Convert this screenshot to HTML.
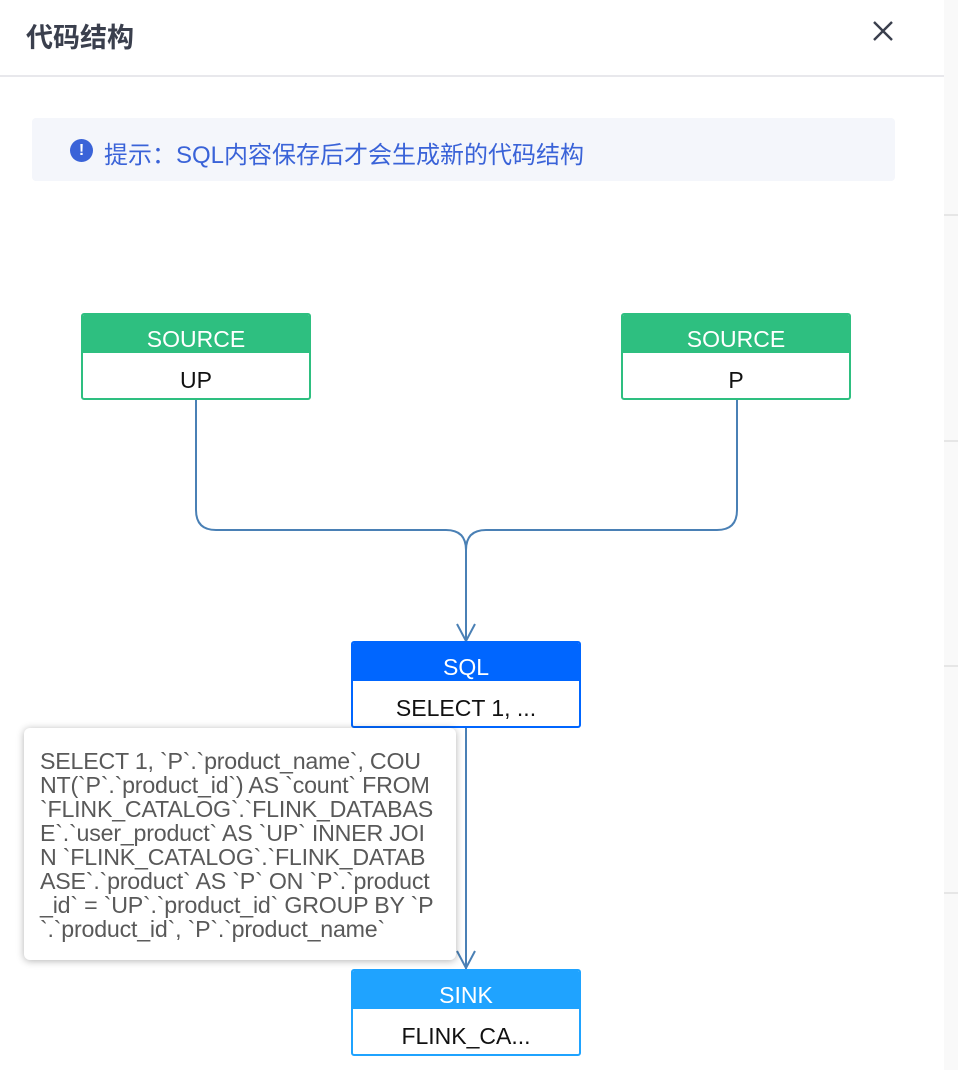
<!DOCTYPE html>
<html><head><meta charset="utf-8">
<style>
body{margin:0;width:958px;height:1070px;position:relative;background:#fff;overflow:hidden;font-family:"Liberation Sans","Noto Sans CJK SC",sans-serif;}
.strip{position:absolute;left:944px;top:0;width:14px;height:1070px;background:#f9f9f9;}
.sl{position:absolute;left:944px;width:14px;height:2px;background:#e6e6e6;}
.hline{position:absolute;left:0;top:75px;width:944px;height:2px;background:#e8e8ec;}
.title{position:absolute;left:26px;top:16px;font-size:27px;font-weight:bold;color:#3a3f4d;}
.close{position:absolute;left:870px;top:18px;}
.hint{position:absolute;left:32px;top:118px;width:863px;height:63px;background:#f4f6fb;border-radius:4px;}
.hint .ic{position:absolute;left:38px;top:21px;width:23px;height:23px;border-radius:50%;background:#3a63d8;color:#fff;font-size:16px;font-weight:bold;text-align:center;line-height:23px;}
.hint .t{position:absolute;left:72px;top:17px;font-size:24px;color:#3a63d8;}
.node{position:absolute;width:230px;height:87px;border:2px solid;border-radius:3px;box-sizing:border-box;background:#fff;overflow:hidden;}
.node .h{height:38px;color:#fff;font-size:23px;text-align:center;line-height:48px;}
.node .b{height:46px;font-size:23px;text-align:center;line-height:54px;color:#111;}
.tip{position:absolute;left:24px;top:728px;width:432px;height:232px;background:#fff;border-radius:6px;box-shadow:0 1px 8px rgba(0,0,0,0.3);}
.tip .t{position:absolute;left:16px;top:21px;font-size:23.2px;line-height:24px;color:#595959;white-space:nowrap;letter-spacing:-0.2px;}
</style></head><body>
<div class="strip"></div>
<div class="sl" style="top:214px"></div><div class="sl" style="top:440px"></div><div class="sl" style="top:665px"></div><div class="sl" style="top:892px"></div>
<div class="title">代码结构</div>
<svg class="close" width="26" height="26" viewBox="0 0 26 26"><path d="M4 4L22 22M22 4L4 22" stroke="#3a3f4d" stroke-width="2.4"/></svg>
<div class="hline"></div>
<div class="hint"><div class="ic">!</div><div class="t">提示：SQL内容保存后才会生成新的代码结构</div></div>
<svg style="position:absolute;left:0;top:0" width="958" height="1070">
<g fill="none" stroke="#4a80b5" stroke-width="2">
<path d="M196 400V510Q196 530 216 530H446Q466 530 466 550V642"/>
<path d="M737 400V510Q737 530 717 530H486Q466 530 466 550"/>
<path d="M457 624L466 641L475 624"/>
<path d="M466 727V969"/>
<path d="M457 951L466 968L475 951"/>
</g></svg>
<div class="node" style="left:81px;top:313px;border-color:#2ebf80"><div class="h" style="background:#2ebf80">SOURCE</div><div class="b">UP</div></div>
<div class="node" style="left:621px;top:313px;border-color:#2ebf80"><div class="h" style="background:#2ebf80">SOURCE</div><div class="b">P</div></div>
<div class="node" style="left:351px;top:641px;border-color:#0066ff"><div class="h" style="background:#0066ff">SQL</div><div class="b">SELECT 1, ...</div></div>
<div class="node" style="left:351px;top:969px;border-color:#1fa3ff"><div class="h" style="background:#1fa3ff">SINK</div><div class="b">FLINK_CA...</div></div>
<div class="tip"><div class="t">SELECT 1, `P`.`product_name`, COU<br>NT(`P`.`product_id`) AS `count` FROM<br>`FLINK_CATALOG`.`FLINK_DATABAS<br>E`.`user_product` AS `UP` INNER JOI<br>N `FLINK_CATALOG`.`FLINK_DATAB<br>ASE`.`product` AS `P` ON `P`.`product<br>_id` = `UP`.`product_id` GROUP BY `P<br>`.`product_id`, `P`.`product_name`</div></div>
</body></html>
